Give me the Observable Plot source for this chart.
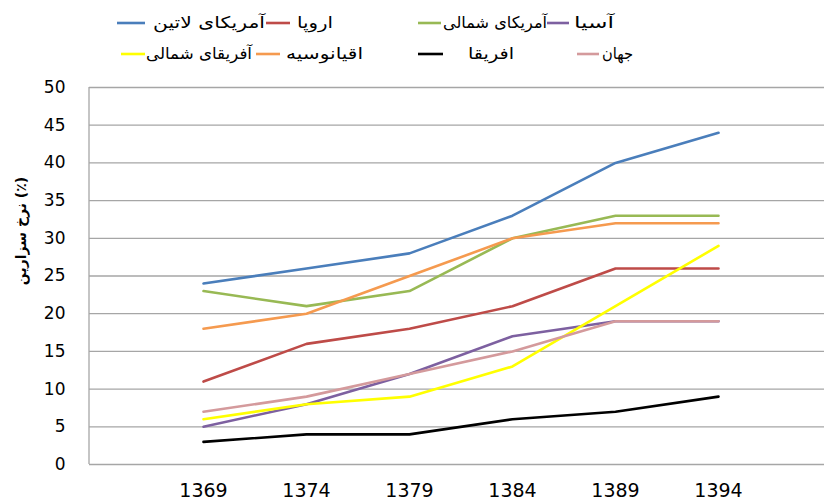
<!DOCTYPE html>
<html>
<head>
<meta charset="utf-8">
<script src="https://cdn.jsdelivr.net/npm/d3@7"></script>
<script src="https://cdn.jsdelivr.net/npm/@observablehq/plot@0.6"></script>
<style>
  html, body { margin: 0; padding: 0; background: #fff; }
  #wrap { position: relative; width: 824px; height: 501px; overflow: hidden; font-family: "DejaVu Sans", sans-serif; }
  #legend { position: absolute; left: 0; top: 0; width: 824px; height: 80px; }
</style>
</head>
<body>
<div id="wrap">
  <div id="chart"></div>
  <svg id="legend" width="824" height="80"></svg>
</div>
<script>
// ---- data ----
const years = ["1369", "1374", "1379", "1384", "1389", "1394"];
const yTicks = [0, 5, 10, 15, 20, 25, 30, 35, 40, 45, 50];
const seriesNames = ["آمریکای لاتین", "اروپا", "آمریکای شمالی", "آسیا", "اقیانوسیه", "افریقا", "آفریقای شمالی", "جهان"];
const seriesColors = ["#4a7ebb", "#be4b48", "#98b954", "#7d60a0", "#f59a4f", "#000000", "#ffff00", "#d49a9c"];
const latinAmerica = [24, 26, 28, 33, 40, 44];
const europe       = [11, 16, 18, 21, 26, 26];
const northAmerica = [23, 21, 23, 30, 33, 33];
const asia         = [5, 8, 12, 17, 19, 19];
const oceania      = [18, 20, 25, 30, 32, 32];
const africa       = [3, 4, 4, 6, 7, 9];
const northAfrica  = [6, 8, 9, 13, 21, 29];
const world        = [7, 9, 12, 15, 19, 19];
const yLabel = "نرخ سزارین (٪)";

const seriesValues = [latinAmerica, europe, northAmerica, asia, oceania, africa, northAfrica, world];
const rows = [];
seriesNames.forEach((name, i) => {
  seriesValues[i].forEach((v, j) => rows.push({series: name, year: years[j], value: v}));
});

const plot = Plot.plot({
  width: 824,
  height: 501,
  marginTop: 87,
  marginBottom: 37,
  marginLeft: 89,
  marginRight: 0,
  style: { fontFamily: "DejaVu Sans, sans-serif", color: "#000", background: "#fff" },
  x: { type: "point", domain: years, range: [150, 770] },
  y: { domain: [0, 50] },
  color: { domain: seriesNames, range: seriesColors },
  marks: [
    Plot.ruleY(yTicks, { stroke: "#a6a6a6", strokeWidth: 1.3 }),
    Plot.axisY({ ticks: yTicks, tickSize: 0, tickPadding: 24, fontSize: 17, label: null }),
    Plot.axisX({ tickSize: 0, tickPadding: 19, fontSize: 19, label: null }),
    Plot.text([yLabel], { frameAnchor: "left", textAnchor: "middle", rotate: -90, dx: -68, dy: -45, fontSize: 14, fontWeight: "bold", fill: "#000" }),
    Plot.line(rows, { x: "year", y: "value", z: "series", stroke: "series", strokeWidth: 2.6, strokeLinejoin: "round" })
  ]
});
document.getElementById("chart").appendChild(plot);

// y axis line
const ys = plot.scale("y");
d3.select(plot).append("line")
  .attr("x1", 89).attr("x2", 89)
  .attr("y1", ys.apply(50)).attr("y2", ys.apply(0))
  .attr("stroke", "#a6a6a6").attr("stroke-width", 1.3);

// ---- legend (Excel-like RTL layout) ----
// per series index: [lineX1, lineX2, textX, textWidth, rowY]
const legendLayout = {
  0: [117, 145, 153, 112, 23],
  1: [266, 290, 297, 36, 23],
  2: [418, 441, 443, 104, 23],
  3: [547, 569, 574, 40, 23],
  6: [121, 145, 146, 106, 54],
  4: [256, 280, 286, 77, 54],
  5: [418, 443, 468, 46, 54],
  7: [577, 599, 602, 31, 54]
};
const lg = d3.select("#legend");
Object.keys(legendLayout).forEach(key => {
  const si = +key;
  const [x1, x2, tx, tw, y] = legendLayout[key];
  lg.append("line").attr("x1", x1).attr("x2", x2).attr("y1", y).attr("y2", y)
    .attr("stroke", seriesColors[si]).attr("stroke-width", 2.6);
  lg.append("text").attr("x", tx).attr("y", y).attr("dy", "0.3em")
    .attr("text-anchor", "start").attr("font-size", 16)
    .attr("textLength", tw).attr("lengthAdjust", "spacingAndGlyphs")
    .attr("font-family", "DejaVu Sans, sans-serif")
    .text(seriesNames[si]);
});
</script>
</body>
</html>
